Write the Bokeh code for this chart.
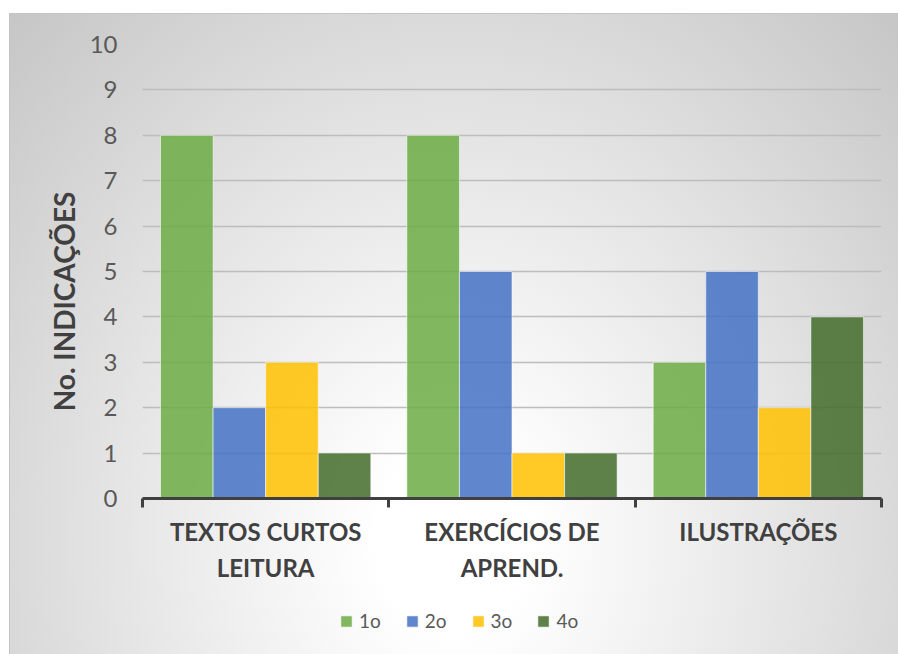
import numpy as np
from bokeh.plotting import figure
from bokeh.layouts import column, row
from bokeh.models import (ColumnDataSource, FixedTicker, Label, Legend, LegendItem, Range1d)
from bokeh.embed import file_html
from bokeh.resources import INLINE

categories = ["TEXTOS CURTOS\nLEITURA", "EXERCÍCIOS DE\nAPREND.", "ILUSTRAÇÕES"]
series = ["1o", "2o", "3o", "4o"]
values = {
    "1o": [8, 8, 3],
    "2o": [2, 5, 5],
    "3o": [3, 1, 2],
    "4o": [1, 1, 4],
}
colors = ["#6BAB44", "#4472C4", "#FFC000", "#436B2A"]
y_ticks = list(range(0, 11))
y_title = "No. INDICAÇÕES"


def blank(fig):
    fig.background_fill_color = None
    fig.border_fill_color = None
    fig.outline_line_color = None
    return fig


bar_w = 0.2134
offsets = [-1.5, -0.5, 0.5, 1.5]
base_x = np.arange(len(categories)) + 0.5
bar_style = dict(fill_alpha=0.85, line_color="white", line_alpha=0.55, line_width=1)

# main plot
p = blank(figure(width=812, height=580, output_backend="svg", toolbar_location=None,
                 x_range=Range1d(0, len(categories)), y_range=Range1d(0, 10),
                 min_border_left=33, min_border_right=17, min_border_top=30,
                 min_border_bottom=96))

for s, c, o in zip(series, colors, offsets):
    src = ColumnDataSource(dict(x=base_x + o * bar_w, top=values[s]))
    p.vbar(x="x", top="top", width=bar_w, source=src, fill_color=c, **bar_style)

p.xgrid.visible = False
p.ygrid.grid_line_color = "#bdbdbd"
p.ygrid.grid_line_width = 1.5
p.ygrid.ticker = FixedTicker(ticks=y_ticks)

p.yaxis.ticker = FixedTicker(ticks=y_ticks)
p.yaxis.axis_line_color = None
p.yaxis.major_tick_line_color = None
p.yaxis.minor_tick_line_color = None
p.yaxis.major_label_standoff = 19
p.yaxis.major_label_text_font = "Lato"
p.yaxis.major_label_text_font_size = "24px"
p.yaxis.major_label_text_color = "#595959"

p.xaxis.ticker = FixedTicker(ticks=list(base_x), minor_ticks=list(range(len(categories) + 1)))
p.xaxis.major_label_overrides = {float(x): c for x, c in zip(base_x, categories)}
p.xaxis.axis_line_color = "#404040"
p.xaxis.axis_line_width = 3
p.xaxis.major_tick_line_color = None
p.xaxis.minor_tick_line_color = "#404040"
p.xaxis.minor_tick_line_width = 3
p.xaxis.minor_tick_out = 9
p.xaxis.minor_tick_in = 0
p.xaxis.major_label_standoff = 9
p.xaxis.major_label_text_font = "Lato"
p.xaxis.major_label_text_font_style = "bold"
p.xaxis.major_label_text_font_size = "24px"
p.xaxis.major_label_text_color = "#404040"
p.xaxis.major_label_text_line_height = 1.25

# y-axis title panel
yl = blank(figure(width=76, height=580, output_backend="svg", toolbar_location=None,
                  x_range=Range1d(0, 1), y_range=Range1d(0, 1),
                  min_border=0))
yl.axis.visible = False
yl.grid.visible = False
yl.add_layout(Label(x=53, y=197, x_units="screen", y_units="screen", text=y_title,
                    angle=np.pi / 2, text_align="center", text_baseline="middle",
                    text_font="Lato", text_font_style="bold", text_font_size="28px",
                    text_color="#404040"))

# legend panel (its bars lie far outside its view; only the legend is seen)
lf = blank(figure(width=888, height=61, output_backend="svg", toolbar_location=None,
                  x_range=Range1d(1000, 1001), y_range=Range1d(1000, 1001),
                  min_border=0))
lf.axis.visible = False
lf.grid.visible = False
items = []
for s, c, o in zip(series, colors, offsets):
    src = ColumnDataSource(dict(x=base_x + o * bar_w, top=values[s]))
    r = lf.vbar(x="x", top="top", width=bar_w, source=src, fill_color=c, **bar_style)
    items.append(LegendItem(label=s, renderers=[r]))
legend = Legend(items=items, orientation="horizontal", location=(329, 23),
                padding=0, margin=0, spacing=24, label_standoff=6,
                glyph_width=14, glyph_height=14,
                label_text_font="Lato", label_text_font_size="19px",
                label_text_color="#595959",
                background_fill_alpha=0, border_line_color=None)
lf.add_layout(legend, "center")

layout = column(row(yl, p), lf)
layout.styles = {
    "margin-left": "9px",
    "margin-top": "13px",
    "border-top": "1px solid #c4c4c4",
    "border-left": "1px solid #c4c4c4",
    "border-right": "1px solid #c4c4c4",
    "background": "radial-gradient(ellipse at 50% 82%, #ffffff 0%, #ffffff 12%, #e4e4e4 55%, #c6c6c6 100%)",
}

open("out.html", "w").write(file_html(layout, INLINE))
